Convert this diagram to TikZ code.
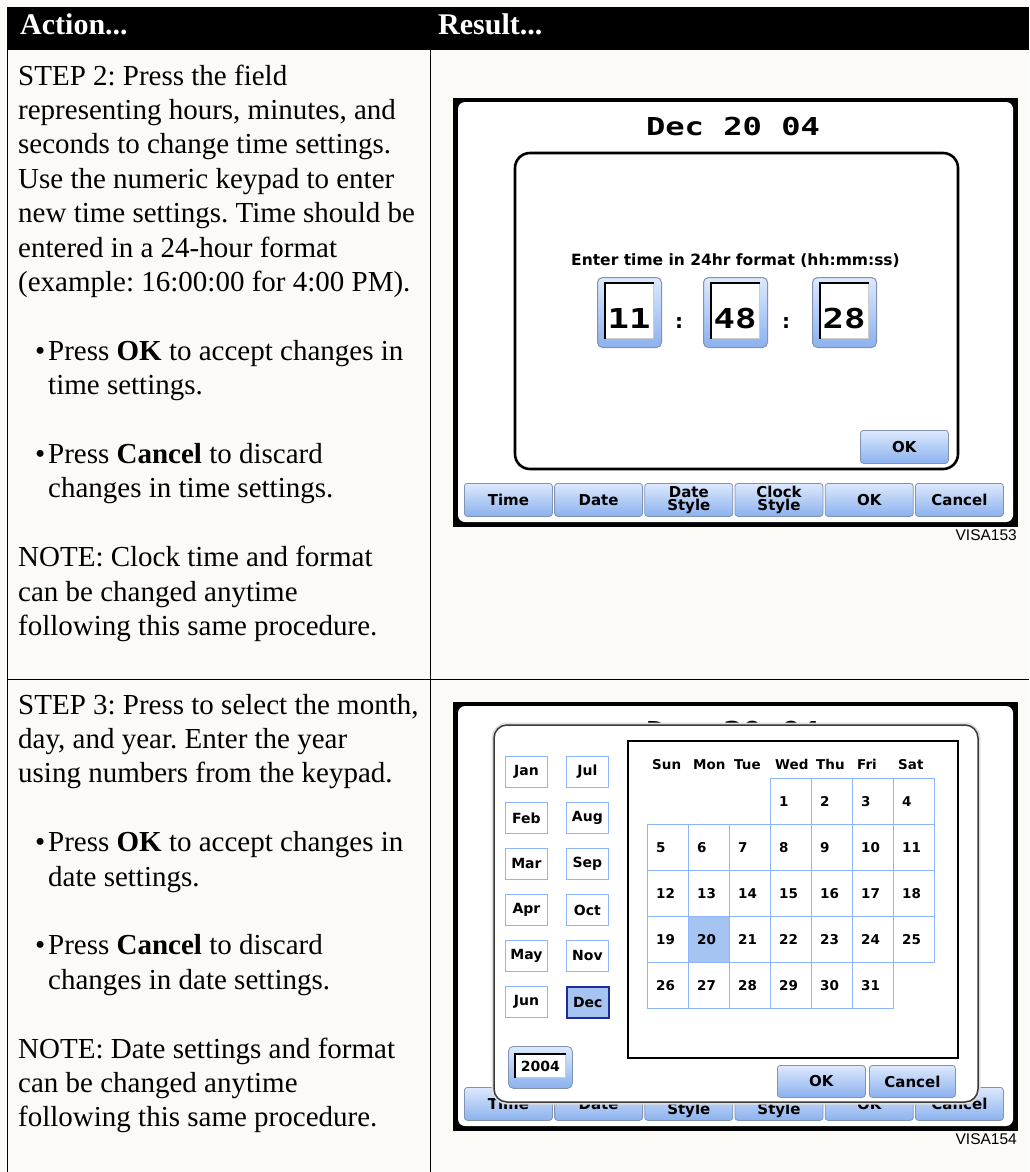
\documentclass[tikz,border=0pt]{standalone}
\usepackage{fontspec}
\usepackage{xcolor}
\usepackage{graphicx}
\setmainfont{Liberation Serif}
\newfontfamily\scrfont{DejaVu Sans}
\newfontfamily\lcdfont{DejaVu Sans Mono}
\newfontfamily\tagfont{Liberation Sans}
\frenchspacing

\definecolor{paper}{HTML}{FBFAF6}
\definecolor{btnhi}{HTML}{DDE9FD}
\definecolor{btnmid}{HTML}{AFCBF7}
\definecolor{btnlo}{HTML}{8BB1EE}
\definecolor{btnedge}{HTML}{8193B0}
\definecolor{gridblue}{HTML}{8DB4FF}
\definecolor{selblue}{HTML}{A6C4F2}
\definecolor{decedge}{HTML}{1E2C9C}
\definecolor{dlgedge}{HTML}{3A3A3A}

\newcommand\bulmark{\makebox[13pt][l]{\textbullet}}
\newcommand\bulgap{\hspace*{13pt}}
\newcommand\lcdtext[1]{\scalebox{1.3}[1]{#1}}

\tikzset{
    txt/.style={anchor=base west, align=left, inner sep=0pt, font=\fontsize{29}{34.4}\selectfont},
    headtxt/.style={anchor=base west, inner sep=0pt, text=white, font=\fontsize{30}{30}\selectfont\bfseries},
    btn/.style={draw=btnedge, line width=0.8pt, rounded corners=3pt, top color=btnhi, middle color=btnmid, bottom color=btnlo, inner sep=0pt, align=center, font=\scrfont\bfseries\fontsize{15}{11.5}\selectfont},
    field/.style={fill=white, draw=gray!40, line width=0.8pt, inner sep=0pt},
    lcd/.style={anchor=base, inner sep=0pt, font=\lcdfont\bfseries\fontsize{27.4}{27.4}\selectfont},
    scrtxt/.style={inner sep=0pt, font=\scrfont\bfseries\fontsize{15.5}{15.5}\selectfont},
    month/.style={draw=gridblue, line width=0.8pt, fill=white, minimum width=42pt, minimum height=31pt, inner sep=0pt, anchor=north west, font=\scrfont\bfseries\fontsize{14}{14}\selectfont},
    cell/.style={draw=gridblue, line width=0.8pt, minimum width=41pt, minimum height=46pt, inner sep=0pt, anchor=north west},
    num/.style={anchor=west, inner sep=0pt, font=\scrfont\bfseries\fontsize{13.5}{13.5}\selectfont},
    wday/.style={anchor=base west, inner sep=0pt, font=\scrfont\bfseries\fontsize{13.5}{13.5}\selectfont},
    tag/.style={anchor=base east, inner sep=0pt, font=\tagfont\fontsize{15.5}{15.5}\selectfont},
}

\newcommand\screenframe[2]{%
    \fill[black] (453,98) rectangle (1018,527);
    \fill[white, rounded corners=7pt] (458,102) rectangle (1013,522);
    \node[lcd, font=\lcdfont\bfseries\fontsize{24.7}{24.7}\selectfont] (#1title) at (733,135) {\lcdtext{Dec 20 04}};
    \foreach \lab [count=\i from 0] in {Time,Date,{Date\\Style},{Clock\\Style},OK,Cancel}
        \node[btn, anchor=north west, minimum width=88pt, minimum height=33pt] (#1bar\i) at (464+90.2*\i,483) {\lab};
    \node[tag] (#1tag) at (1017,540) {#2};
}

\begin{document}
\begin{tikzpicture}[x=1pt,y=-1pt]
    \useasboundingbox (0,0) rectangle (1029,1172);
    \fill[paper] (0,0) rectangle (1029,1172);

    \fill[black] (7,7) rectangle (1029,50);
    \draw[line width=1pt] (7,50) -- (7,1172);
    \draw[line width=1pt] (430,50) -- (430,1172);
    \draw[line width=1pt] (7,679) -- (1029,679);

    \node[headtxt] (act) at (20,35) {Action...};
    \node[headtxt] (res) at (438,35) {Result...};

    % multi-line nodes sit on the baseline of their last line
    \node[txt] (step2) at (18,291.4) {STEP 2: Press the field\\representing hours, minutes, and\\seconds to change time settings.\\Use the numeric keypad to enter\\new time settings. Time should be\\entered in a 24-hour format\\(example: 16:00:00 for 4:00 PM).};
    \node[txt] (okA) at (35,394.6) {\bulmark Press \textbf{OK} to accept changes in\\\bulgap time settings.};
    \node[txt] (canA) at (35,497.8) {\bulmark Press \textbf{Cancel} to discard\\\bulgap changes in time settings.};
    \node[txt] (noteA) at (18,635.4) {NOTE: Clock time and format\\can be changed anytime\\following this same procedure.};

    \node[txt] (step3) at (18,782.8) {STEP 3: Press to select the month,\\day, and year. Enter the year\\using numbers from the keypad.};
    \node[txt] (okB) at (35,886) {\bulmark Press \textbf{OK} to accept changes in\\\bulgap date settings.};
    \node[txt] (canB) at (35,989.2) {\bulmark Press \textbf{Cancel} to discard\\\bulgap changes in date settings.};
    \node[txt] (noteB) at (18,1126.8) {NOTE: Date settings and format\\can be changed anytime\\following this same procedure.};

    % time screen
    \screenframe{a}{VISA153}
    \draw[line width=2.6pt, rounded corners=15pt] (515,153) rectangle (958,469);
    \node[scrtxt, anchor=base] (prompt) at (735.5,265) {Enter time in 24hr format (hh:mm:ss)};
    \foreach \nm/\xx/\vv in {hh/597/11,mm/703/48,ss/812/28}{
        \node[btn, anchor=north west, minimum width=64pt, minimum height=70pt, rounded corners=5pt, line width=1pt] (\nm) at (\xx,277) {};
        \node[field, anchor=north west, minimum width=48pt, minimum height=55pt] (\nm-f) at (\xx+8,283) {};
        \draw[line width=1.8pt] (\nm-f.south west) -- (\nm-f.north west) -- (\nm-f.north east);
        \node[lcd] (\nm-v) at (\xx+32,328) {\lcdtext{\vv}};
    }
    \node[scrtxt, anchor=base, font=\scrfont\bfseries\fontsize{20}{20}\selectfont] (colA) at (679,328) {:};
    \node[scrtxt, anchor=base, font=\scrfont\bfseries\fontsize{20}{20}\selectfont] (colB) at (786,328) {:};
    \node[btn, anchor=north west, minimum width=88pt, minimum height=33pt] (okbtn) at (860,430) {OK};

    % date screen
    \begin{scope}[yshift=-604pt]
        \screenframe{b}{VISA154}
    \end{scope}
    \draw[gray!25, line width=3pt, rounded corners=14pt] (493,724) rectangle (979,1103);
    \draw[dlgedge, line width=1.5pt, fill=white, rounded corners=13pt] (494,725) rectangle (978,1102);
    \draw[line width=1.8pt, fill=white] (628,741) rectangle (958,1058);

    \foreach \m [count=\k from 0] in {Jan,Feb,Mar,Apr,May,Jun}
        \node[month] (m\m) at (505,756+46*\k) {\m};
    \foreach \m [count=\k from 0] in {Jul,Aug,Sep,Oct,Nov}
        \node[month] (m\m) at (566,756+46*\k) {\m};
    \node[month, fill=selblue, draw=decedge, line width=1.6pt] (mDec) at (566,986) {Dec};

    \foreach \w [count=\c from 0] in {Sun,Mon,Tue,Wed,Thu,Fri,Sat}
        \node[wday] (w\w) at (652+41*\c,769) {\w};
    \foreach \d in {1,...,31}{
        \pgfmathtruncatemacro\pos{\d+2}
        \pgfmathtruncatemacro\col{mod(\pos,7)}
        \pgfmathtruncatemacro\row{div(\pos,7)}
        \ifnum\d=20
            \node[cell, fill=selblue] (day\d) at (647+41*\col,778+46*\row) {};
        \else
            \node[cell] (day\d) at (647+41*\col,778+46*\row) {};
        \fi
        \node[num] (n\d) at ([xshift=9pt]day\d.west) {\d};
    }

    \node[btn, anchor=north west, minimum width=64pt, minimum height=42pt, rounded corners=5pt] (yearbtn) at (508,1046) {};
    \node[field, anchor=north west, minimum width=50pt, minimum height=23pt] (yearf) at (515,1054) {};
    \draw[line width=1.6pt] (yearf.south west) -- (yearf.north west) -- (yearf.north east);
    \node[num, anchor=center, font=\scrfont\bfseries\fontsize{14}{14}\selectfont] (year) at (yearf.center) {2004};

    \node[btn, anchor=north west, minimum width=88pt, minimum height=32pt] (okdate) at (777,1065) {OK};
    \node[btn, anchor=north west, minimum width=86pt, minimum height=32pt] (candate) at (869,1065) {Cancel};
\end{tikzpicture}
\end{document}
